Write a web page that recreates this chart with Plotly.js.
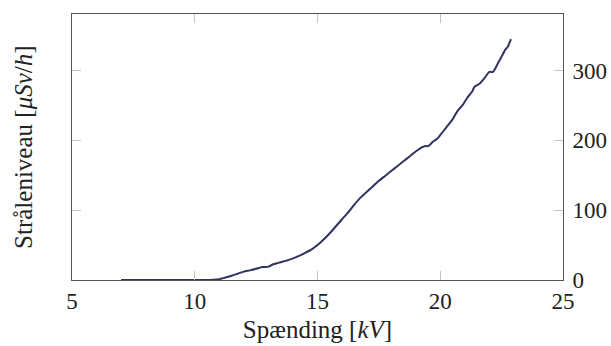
<!DOCTYPE html>
<html>
<head>
<meta charset="utf-8">
<script src="https://cdn.plot.ly/plotly-3.0.1.min.js"></script>
<style>
  html, body { margin: 0; padding: 0; background: #ffffff; }
  #chart { width: 611px; height: 346px; }
</style>
</head>
<body>
<div id="chart"></div>
<script>
// Tube voltage (kV) against measured dose rate (µSv/h)
const voltage = [
  7.0, 7.5, 8.0, 8.5, 9.0, 9.5, 10.0, 10.5, 10.75, 11.0,
  11.25, 11.5, 11.75, 12.0, 12.25, 12.5, 12.75, 13.0, 13.2, 13.4,
  13.6, 13.8, 14.0, 14.25, 14.5, 14.75, 15.0, 15.25, 15.5, 15.75,
  16.0, 16.25, 16.5, 16.75, 17.0, 17.25, 17.5, 17.75, 18.0, 18.25,
  18.5, 18.75, 19.0, 19.25, 19.4, 19.5, 19.7, 19.9, 20.1, 20.3,
  20.5, 20.7, 20.9, 21.1, 21.3, 21.4, 21.6, 21.8, 22.0, 22.15,
  22.3, 22.5, 22.65, 22.75, 22.88
];
const doseRate = [
  0, 0, 0, 0, 0, 0, 0, 0, 0.3, 1.2,
  3.5, 6, 9, 12, 13.8, 16, 18.5, 19.2, 22.5, 24.5,
  26.5, 28.5, 31, 34.5, 39, 43.5, 50, 58, 67, 77,
  87, 97, 108, 118, 126, 134, 142, 149, 156, 163,
  170, 177, 184, 190, 192, 191.5, 198, 203, 212, 221,
  230, 242, 250, 261, 270, 277, 281, 289, 298, 298,
  307, 320, 330, 334, 345
];
const xTicks = [5, 10, 15, 20, 25];
const yTicks = [0, 100, 200, 300];

const serif = 'Liberation Serif, Times New Roman, serif';
const textColor = '#222222';

const trace = {
  x: voltage,
  y: doseRate,
  type: 'scatter',
  mode: 'lines',
  line: { color: '#30335f', width: 2, shape: 'spline', smoothing: 0.6 },
  hoverinfo: 'skip'
};

const layout = {
  width: 611,
  height: 346,
  margin: { l: 72, r: 48, t: 14, b: 66 },
  paper_bgcolor: '#ffffff',
  plot_bgcolor: '#ffffff',
  showlegend: false,
  font: { family: serif, size: 23, color: textColor },
  xaxis: {
    range: [5, 25],
    tickvals: xTicks,
    ticktext: xTicks.map(String),
    ticks: 'inside',
    ticklen: 9,
    tickwidth: 1,
    tickcolor: '#c4c4c4',
    showline: true,
    linecolor: '#555555',
    linewidth: 1,
    mirror: 'ticks',
    showgrid: false,
    zeroline: false,
    ticklabelstandoff: 0,
    tickfont: { family: serif, size: 23, color: textColor },
    title: {
      text: 'Spænding [<i>kV</i>]',
      font: { family: serif, size: 25, color: textColor },
      standoff: 7
    }
  },
  yaxis: {
    range: [0, 381],
    side: 'right',
    tickvals: yTicks,
    ticktext: yTicks.map(String),
    ticks: 'inside',
    ticklen: 9,
    tickwidth: 1,
    tickcolor: '#c4c4c4',
    showline: true,
    linecolor: '#555555',
    linewidth: 1,
    mirror: 'ticks',
    showgrid: false,
    zeroline: false,
    ticklabelstandoff: 4,
    tickfont: { family: serif, size: 23, color: textColor }
  },
  annotations: [{
    text: 'Stråleniveau [<i>μSv</i>/<i>h</i>]',
    xref: 'paper', yref: 'paper',
    x: -0.1, y: 0.5,
    xanchor: 'center', yanchor: 'middle',
    textangle: -90,
    showarrow: false,
    font: { family: serif, size: 25, color: textColor }
  }]
};

Plotly.newPlot('chart', [trace], layout, { displayModeBar: false, staticPlot: true });
</script>
</body>
</html>
